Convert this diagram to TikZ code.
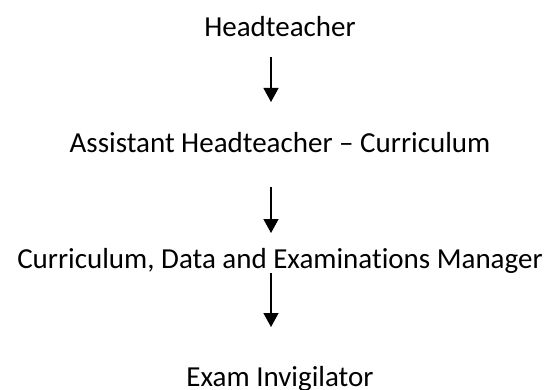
\documentclass[tikz,border=0pt]{standalone}
\usepackage{fontspec}
\setmainfont{Carlito}[Ligatures=CommonOff]
\usetikzlibrary{arrows.meta}
\begin{document}
\begin{tikzpicture}[x=1pt,y=-1pt,
  lbl/.style={font=\fontsize{29}{34}\selectfont, inner sep=0pt, anchor=base},
  arr/.style={-{Triangle[length=14pt,width=15pt]}, line width=1.3pt}]
\useasboundingbox[fill=white] (0,0) rectangle (548,390);
\node[lbl] (h) at (280,37) {Headteacher};
\node[lbl] (a) at (280,153) {Assistant Headteacher – Curriculum};
\node[lbl] (c) at (280,268) {Curriculum, Data and Examinations Manager};
\node[lbl] (e) at (280,386) {Exam Invigilator};
\coordinate (s1) at (271,57);  \coordinate (t1) at (271,102);
\coordinate (s2) at (271,187); \coordinate (t2) at (271,233);
\coordinate (s3) at (271,273); \coordinate (t3) at (271,327);
\draw[arr] (s1) -- (t1);
\draw[arr] (s2) -- (t2);
\draw[arr] (s3) -- (t3);
\end{tikzpicture}
\end{document}
